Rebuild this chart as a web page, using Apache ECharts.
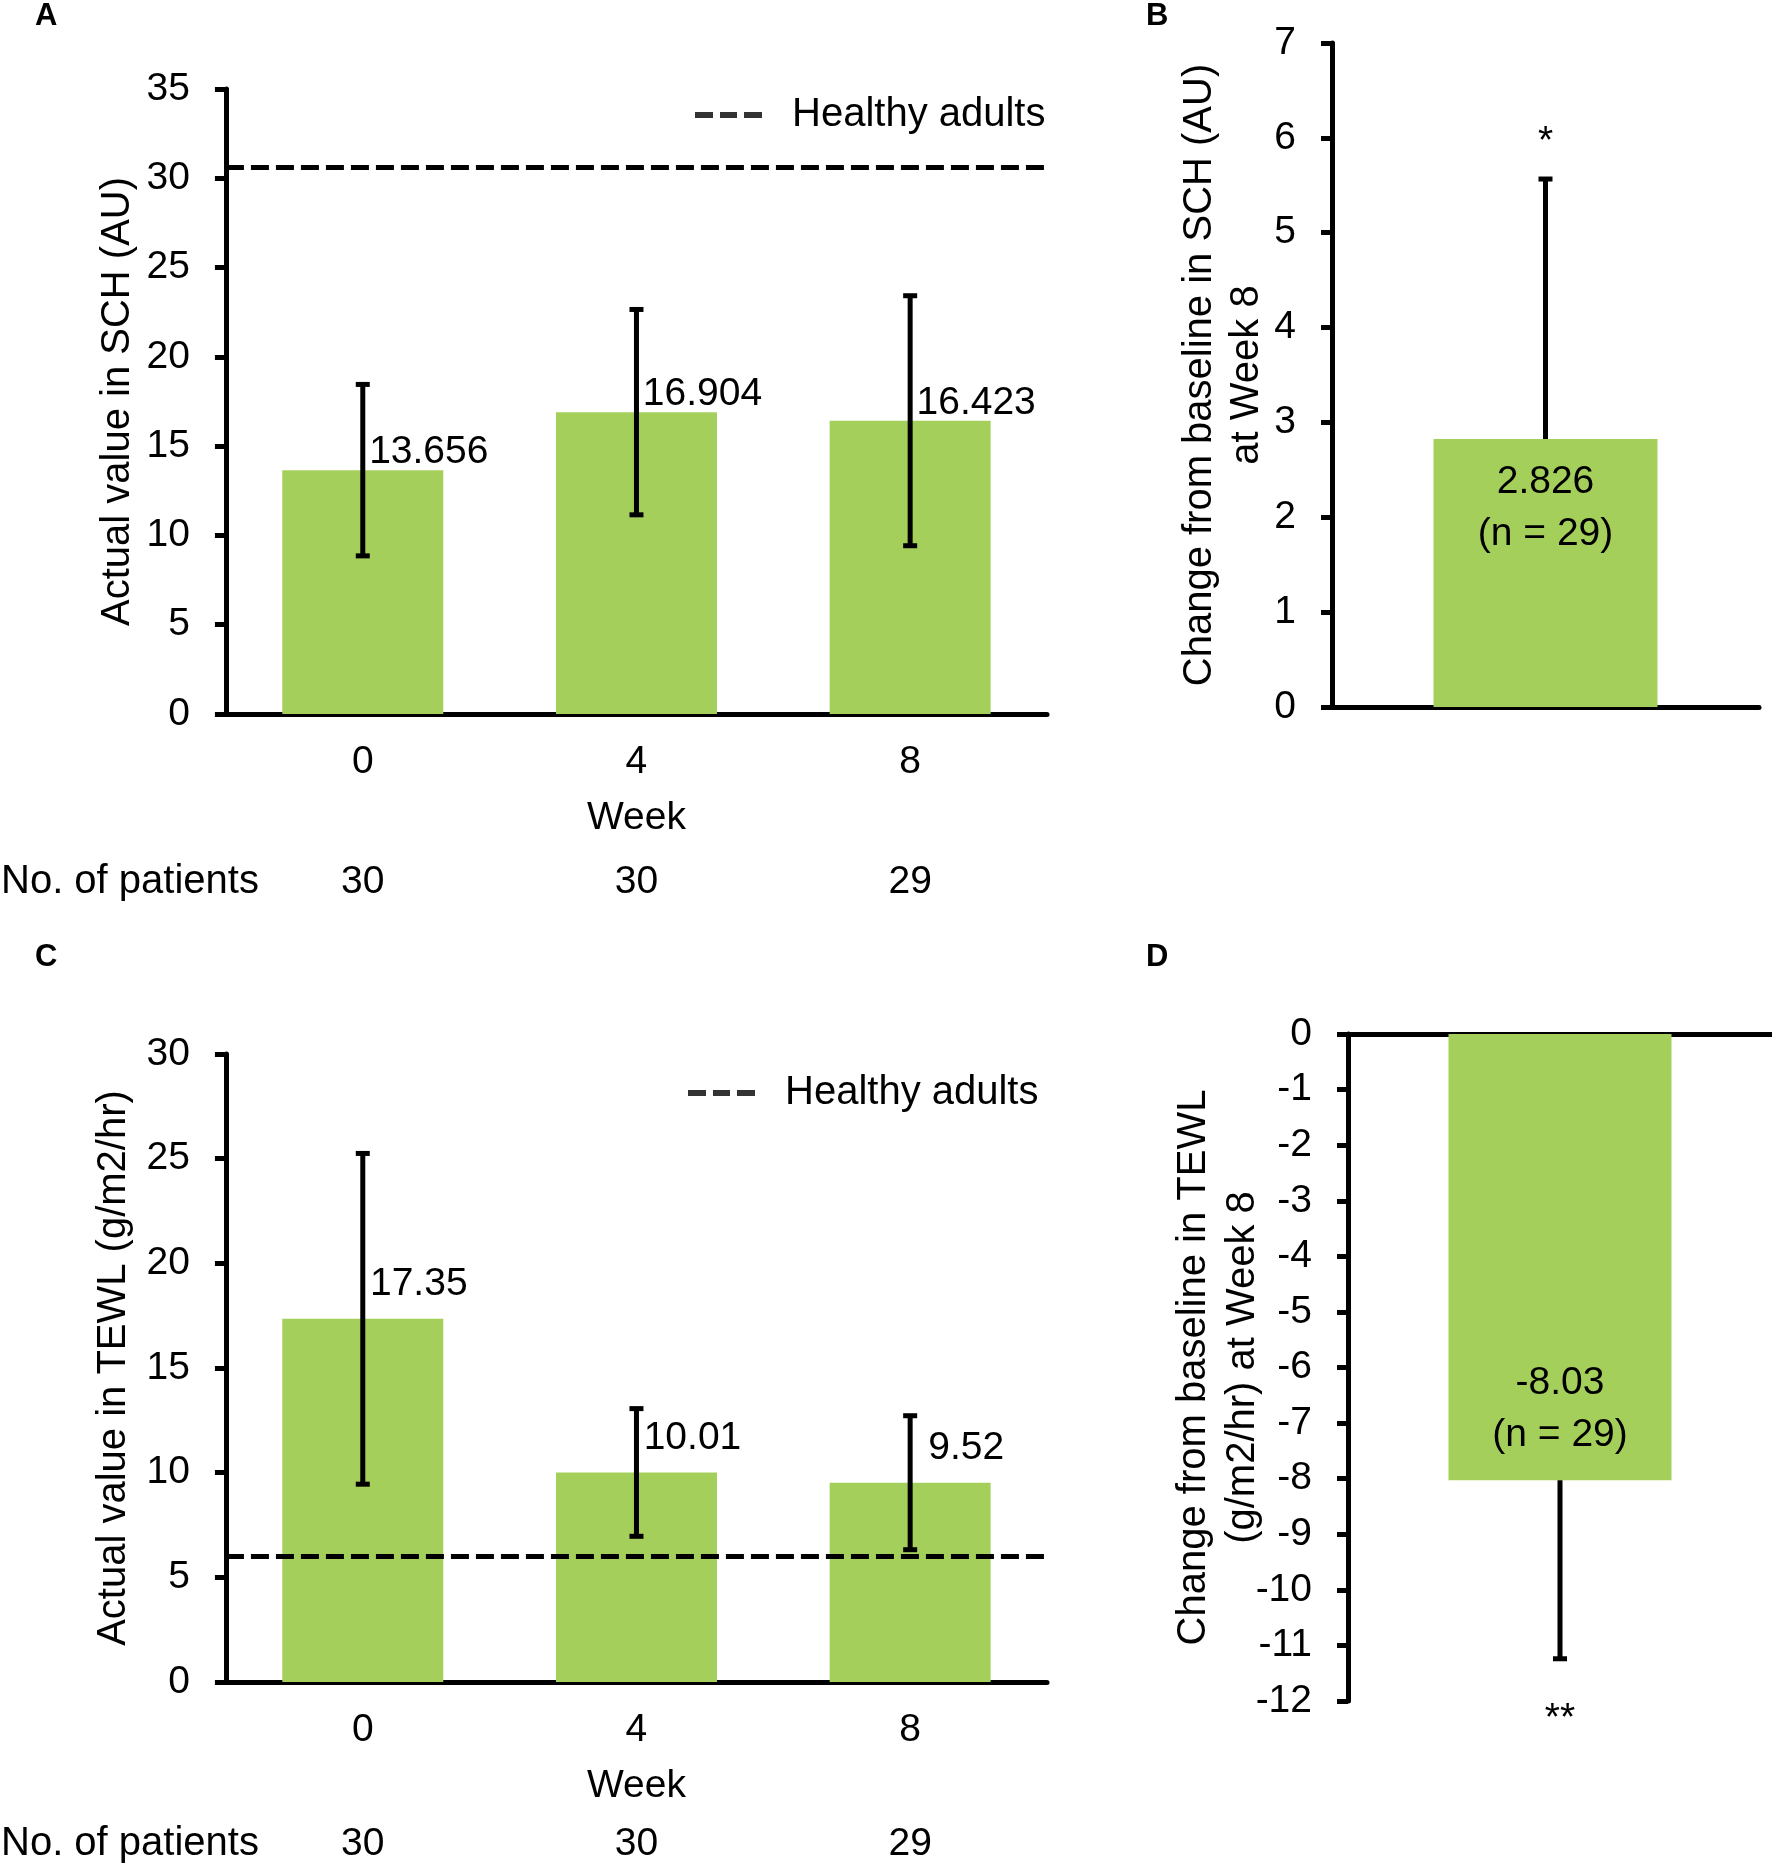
<!DOCTYPE html>
<html>
<head>
<meta charset="utf-8">
<script src="https://cdn.jsdelivr.net/npm/echarts@6/dist/echarts.min.js"></script>
<style>
html,body{margin:0;padding:0;background:#fff;}
#chart{width:1772px;height:1865px;}
</style>
</head>
<body>
<div id="chart"></div>
<script>
// ---- data ----
const weeks = ['0', '4', '8'];
const patients = ['30', '30', '29'];
const schMean = [13.656, 16.904, 16.423];
const schSD = [4.8, 5.75, 7.0];
const schHealthy = 30.6;
const tewlMean = [17.35, 10.01, 9.52];
const tewlSD = [7.9, 3.05, 3.2];
const tewlHealthy = 6.0;
const changeCat = ['Week 8'];
const schChange = [2.826];
const schChangeSD = [2.74];
const schChangeStar = ['*'];
const tewlChange = [-8.03];
const tewlChangeSD = [3.21];
const tewlChangeStar = ['**'];
const changeN = [29];
const schTicks = {min: 0, max: 35, interval: 5};
const tewlTicks = {min: 0, max: 30, interval: 5};
const schChTicks = {min: 0, max: 7, interval: 1};
const tewlChTicks = {min: -12, max: 0, interval: 1};

// ---- style ----
const FONT = "'Liberation Sans', Arial, sans-serif";
const FS = 39;
const GREEN = '#a5cf5b';
const BLACK = '#000';
const DASH = [18, 7];
const DASH_ICON = 'path://M0,0H18V6H0Z M25,0H42V6H25Z M49,0H67V6H49Z';

const chart = echarts.init(document.getElementById('chart'), null, {renderer: 'canvas'});

function errRender(mode, stars) {
  return function (params, api) {
    const i = api.value(0), m = api.value(1), s = api.value(2);
    const c = api.coord([i, m]);
    const hi = api.coord([i, m + s]);
    const lo = api.coord([i, m - s]);
    const cap = 7;
    const st = {stroke: BLACK, lineWidth: 5};
    let y1 = hi[1], y2 = lo[1];
    if (mode === 'up') y2 = c[1];
    if (mode === 'down') y1 = c[1];
    const children = [{type: 'line', shape: {x1: c[0], y1: y1, x2: c[0], y2: y2}, style: st}];
    if (mode !== 'down') children.push({type: 'line', shape: {x1: c[0] - cap, y1: hi[1], x2: c[0] + cap, y2: hi[1]}, style: st});
    if (mode !== 'up') children.push({type: 'line', shape: {x1: c[0] - cap, y1: lo[1], x2: c[0] + cap, y2: lo[1]}, style: st});
    if (stars) {
      children.push({type: 'text', x: c[0], y: mode === 'up' ? hi[1] - 37 : lo[1] + 60,
        style: {text: stars[params.dataIndex], font: FS + 'px ' + FONT, fill: BLACK, align: 'center', verticalAlign: 'middle'}});
    }
    return {type: 'group', children: children};
  };
}

const axisLineStyle = {show: true, onZero: true, lineStyle: {color: BLACK, width: 5}};
const labelStyle = {color: BLACK, fontSize: FS, fontFamily: FONT};

function valueAxis(grid, ticks, name, nameGap, lineHeight) {
  return {
    type: 'value', gridIndex: grid, min: ticks.min, max: ticks.max, interval: ticks.interval,
    axisLine: axisLineStyle,
    axisTick: {show: true, inside: false, length: 11, lineStyle: {color: BLACK, width: 5}},
    splitLine: {show: false},
    axisLabel: Object.assign({margin: 36}, labelStyle),
    name: name, nameLocation: 'middle', nameGap: nameGap, nameMoveOverlap: false,
    nameTextStyle: {color: BLACK, fontSize: 40, fontFamily: FONT, lineHeight: lineHeight}
  };
}

function weekAxis(grid) {
  return {
    type: 'category', gridIndex: grid, data: weeks,
    axisLine: axisLineStyle, axisTick: {show: false},
    axisLabel: Object.assign({margin: 29, lineHeight: 39}, labelStyle),
    name: 'Week', nameLocation: 'middle', nameGap: 85, nameMoveOverlap: false,
    nameTextStyle: {color: BLACK, fontSize: FS, fontFamily: FONT, lineHeight: 39}
  };
}

function patientAxis(grid, offset) {
  return {
    type: 'category', gridIndex: grid, data: patients, position: 'bottom', offset: offset,
    axisLine: {show: false}, axisTick: {show: false},
    axisLabel: Object.assign({margin: 0, verticalAlign: 'middle'}, labelStyle),
    name: 'No. of patients', nameLocation: 'start', nameGap: -33, nameMoveOverlap: false,
    nameTextStyle: {color: BLACK, fontSize: 40, fontFamily: FONT, verticalAlign: 'middle'}
  };
}

function healthyMark(v) {
  return {
    silent: true, symbol: ['none', 'none'], label: {show: false},
    lineStyle: {color: BLACK, width: 5, type: DASH},
    emphasis: {disabled: true},
    data: [{yAxis: v}]
  };
}

function legendAt(left, top) {
  return {left: left, top: top, padding: 0, itemWidth: 67, itemHeight: 6, icon: DASH_ICON,
    data: ['Healthy adults'], selectedMode: false, itemStyle: {color: BLACK},
    textStyle: {color: BLACK, fontSize: 40, fontFamily: FONT, lineHeight: 40, padding: [0, 0, 0, 25]}};
}

const titleStyle = {fontSize: 31, fontWeight: 'bold', color: BLACK, fontFamily: FONT, lineHeight: 31};

const option = {
  animation: false,
  backgroundColor: '#fff',
  textStyle: {fontFamily: FONT},
  title: [
    {text: 'A', left: 35, top: 1, padding: 0, textStyle: titleStyle},
    {text: 'B', left: 1146, top: 1, padding: 0, textStyle: titleStyle},
    {text: 'C', left: 35, top: 942, padding: 0, textStyle: titleStyle},
    {text: 'D', left: 1146, top: 942, padding: 0, textStyle: titleStyle}
  ],
  legend: [legendAt(695, 95), legendAt(688, 1073)],
  grid: [
    {left: 223, top: 89, width: 824, height: 625},
    {left: 1332, top: 43, width: 427, height: 664},
    {left: 223, top: 1054, width: 824, height: 628},
    {left: 1348, top: 1034, width: 424, height: 667}
  ],
  xAxis: [
    weekAxis(0),
    {type: 'category', gridIndex: 1, data: changeCat, axisLine: axisLineStyle, axisTick: {show: false}, axisLabel: {show: false}},
    weekAxis(2),
    {type: 'category', gridIndex: 3, data: changeCat, position: 'top', axisLine: axisLineStyle, axisTick: {show: false}, axisLabel: {show: false}},
    patientAxis(0, 168),
    patientAxis(2, 162)
  ],
  yAxis: [
    valueAxis(0, schTicks, 'Actual value in SCH (AU)', 88, 40),
    valueAxis(1, schChTicks, 'Change from baseline in SCH (AU)\nat Week 8', 62, 47),
    valueAxis(2, tewlTicks, 'Actual value in TEWL (g/m2/hr)', 92, 40),
    valueAxis(3, tewlChTicks, 'Change from baseline in TEWL\n(g/m2/hr) at Week 8', 81, 49)
  ],
  series: [
    // Panel A
    {type: 'bar', name: 'SCH', xAxisIndex: 0, yAxisIndex: 0, data: schMean, barWidth: 161, z: 2,
     itemStyle: {color: GREEN},
     label: {show: true, position: 'top', distance: 0, offset: [66, 2], color: BLACK, fontSize: FS, fontFamily: FONT, lineHeight: 39},
     markLine: healthyMark(schHealthy)},
    {type: 'custom', xAxisIndex: 0, yAxisIndex: 0, clip: false, z: 10, renderItem: errRender('both'),
     data: schMean.map((m, i) => [i, m, schSD[i]])},
    {type: 'scatter', name: 'Healthy adults', xAxisIndex: 0, yAxisIndex: 0, data: [], itemStyle: {color: BLACK}},
    // Panel B
    {type: 'bar', xAxisIndex: 1, yAxisIndex: 1, data: schChange, barWidth: 224, z: 2,
     itemStyle: {color: GREEN},
     label: {show: true, position: 'insideTop', distance: 17, color: BLACK, fontSize: FS, fontFamily: FONT, lineHeight: 52,
       formatter: p => p.value + '\n(n = ' + changeN[p.dataIndex] + ')'}},
    {type: 'custom', xAxisIndex: 1, yAxisIndex: 1, clip: false, z: 10, renderItem: errRender('up', schChangeStar),
     data: schChange.map((m, i) => [i, m, schChangeSD[i]])},
    // Panel C
    {type: 'bar', name: 'TEWL', xAxisIndex: 2, yAxisIndex: 2, data: tewlMean, barWidth: 161, z: 2,
     itemStyle: {color: GREEN},
     label: {show: true, position: 'top', distance: 15, offset: [56, 0], color: BLACK, fontSize: FS, fontFamily: FONT, lineHeight: 39},
     markLine: healthyMark(tewlHealthy)},
    {type: 'custom', xAxisIndex: 2, yAxisIndex: 2, clip: false, z: 10, renderItem: errRender('both'),
     data: tewlMean.map((m, i) => [i, m, tewlSD[i]])},
    {type: 'scatter', name: 'Healthy adults', xAxisIndex: 2, yAxisIndex: 2, data: [], itemStyle: {color: BLACK}},
    // Panel D
    {type: 'bar', xAxisIndex: 3, yAxisIndex: 3, data: tewlChange, barWidth: 223, z: 2,
     itemStyle: {color: GREEN},
     label: {show: true, position: 'insideBottom', distance: 19, color: BLACK, fontSize: FS, fontFamily: FONT, lineHeight: 52,
       formatter: p => p.value + '\n(n = ' + changeN[p.dataIndex] + ')'}},
    {type: 'custom', xAxisIndex: 3, yAxisIndex: 3, clip: false, z: 10, renderItem: errRender('down', tewlChangeStar),
     data: tewlChange.map((m, i) => [i, m, tewlChangeSD[i]])}
  ]
};
chart.setOption(option);
</script>
</body>
</html>
